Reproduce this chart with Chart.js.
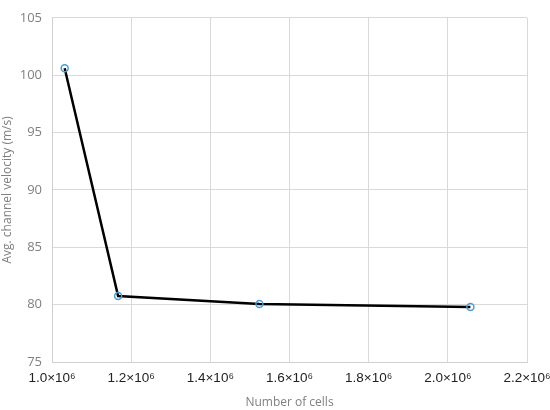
<!DOCTYPE html>
<html>
<head>
<meta charset="utf-8">
<script src="https://cdn.jsdelivr.net/npm/chart.js@4/dist/chart.umd.min.js"></script>
<style>
html,body{margin:0;padding:0;background:#fff;}
#wrap{width:550px;height:410px;position:relative;}
</style>
</head>
<body>
<div id="wrap"><canvas id="c" width="550" height="410"></canvas></div>
<script>
const cells = [1.032e6, 1.167e6, 1.524e6, 2.057e6];
const velocity = [100.6, 80.75, 80.05, 79.8];
const xTitle = 'Number of cells';
const yTitle = 'Avg. channel velocity (m/s)';

const points = cells.map((x, i) => ({x: x, y: velocity[i]}));

new Chart(document.getElementById('c'), {
  type: 'scatter',
  data: {
    datasets: [{
      data: points,
      showLine: true,
      borderColor: '#000000',
      borderWidth: 2.5,
      pointRadius: 3.5,
      pointHoverRadius: 3.5,
      pointBorderColor: '#4a9fd0',
      pointBackgroundColor: 'rgba(0,0,0,0)',
      pointBorderWidth: 1.5,
      tension: 0
    }]
  },
  options: {
    responsive: false,
    animation: false,
    plugins: {legend: {display: false}, tooltip: {enabled: false}},
    layout: {padding: {top: 14, right: 0, left: 0, bottom: 0}},
    scales: {
      x: {
        type: 'linear',
        min: 1.0e6, max: 2.2e6,
        ticks: {
          stepSize: 0.2e6,
          color: '#222222',
          font: {family: 'Liberation Sans', size: 13.5},
          padding: 8,
          maxRotation: 0,
          callback: v => (v / 1e6).toFixed(1) + '×10⁶'
        },
        grid: {color: '#d9d9d9', drawTicks: false, lineWidth: 1},
        border: {color: '#d0d0d0'},
        title: {display: true, text: xTitle, color: '#7f7f7f', font: {family: 'Open Sans', size: 12}, padding: {top: 0, bottom: 0}},
        afterFit: s => { s.height = 48; s.paddingRight = 23; s.paddingLeft = 0; }
      },
      y: {
        min: 75, max: 105,
        ticks: {
          stepSize: 5,
          color: '#7f7f7f',
          font: {family: 'Open Sans', size: 13},
          padding: 10
        },
        grid: {color: '#d9d9d9', drawTicks: false, lineWidth: 1},
        border: {color: '#d0d0d0'},
        title: {display: true, text: yTitle, color: '#7f7f7f', font: {family: 'Open Sans', size: 12}, padding: {top: 0, bottom: 2}},
        afterFit: s => { s.width = 52; }
      }
    }
  }
});
</script>
</body>
</html>
